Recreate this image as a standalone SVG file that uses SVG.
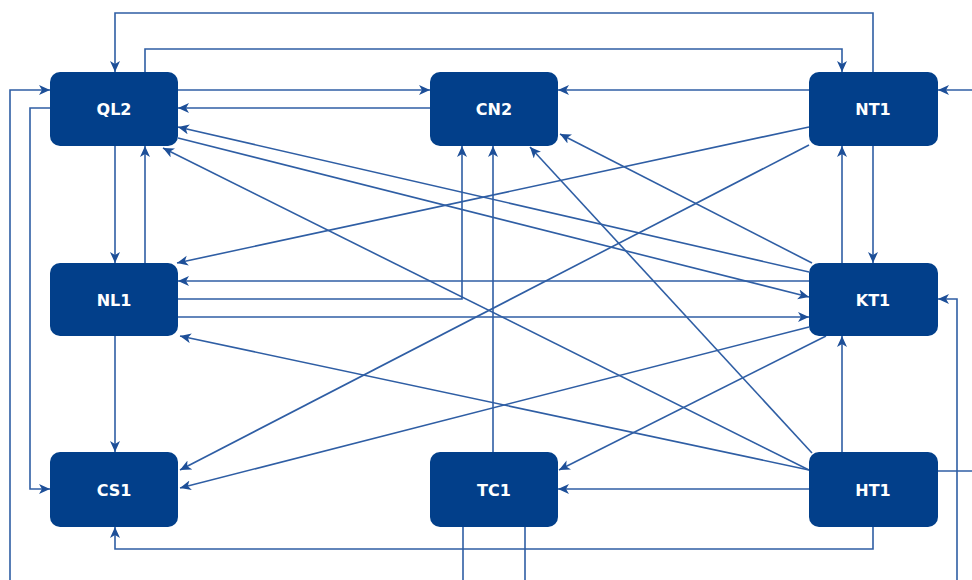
<svg xmlns="http://www.w3.org/2000/svg" width="972" height="580" viewBox="0 0 972 580">
<style>
.node rect{fill:#023f8a;}
.node text{fill:#ffffff;font-family:"DejaVu Sans","Liberation Sans",sans-serif;font-weight:bold;font-size:16px;text-anchor:middle;dominant-baseline:central;}
#connectors path{fill:none;stroke:#2f5ea4;stroke-width:1.6;}
#connectors path.a{marker-end:url(#arr);}
</style>
<defs>
<marker id="arr" markerUnits="userSpaceOnUse" markerWidth="12" markerHeight="11" refX="11" refY="5" orient="auto">
<path d="M0,0 L11,5 L0,10 L3,5 z" fill="#1d4f98"/>
</marker>
</defs>
<rect width="972" height="580" fill="#ffffff"/>
<g id="connectors">
<path class="a" d="M873,72 V13 H115 V72"/>
<path class="a" d="M145,72 V49 H842 V72"/>
<path class="a" d="M10,580 V90 H50"/>
<path class="a" d="M50,108 H30 V489 H50"/>
<path class="a" d="M178,90 H430"/>
<path class="a" d="M430,108 H178"/>
<path class="a" d="M809,90 H558"/>
<path class="a" d="M972,90 H938"/>
<path class="a" d="M115,146 V263"/>
<path class="a" d="M145,263 V146"/>
<path class="a" d="M115,336 V452"/>
<path class="a" d="M873,146 V263"/>
<path class="a" d="M842,263 V146"/>
<path class="a" d="M842,452 V336"/>
<path class="a" d="M957,580 V299 H938"/>
<path d="M938,471 H972"/>
<path class="a" d="M873,527 V549 H115 V527"/>
<path d="M463,527 V580"/>
<path d="M525,527 V580"/>
<path class="a" d="M493,452 V146"/>
<path class="a" d="M178,299 H462 V146"/>
<path class="a" d="M809,281 H178"/>
<path class="a" d="M178,317 H809"/>
<path class="a" d="M809,489 H558"/>
<path class="a" d="M809,272 L178,127"/>
<path class="a" d="M178,138 L809,297"/>
<path class="a" d="M809,470 L163,148"/>
<path class="a" d="M809,470 L180,336"/>
<path class="a" d="M812,453 L530,147"/>
<path class="a" d="M812,263 L560,134"/>
<path class="a" d="M809,127 L177,263"/>
<path class="a" d="M809,145 L180,470"/>
<path class="a" d="M809,327 L180,488"/>
<path class="a" d="M826,336 L559,470"/>
</g>
<g id="QL2" class="node"><rect x="50" y="72" width="128" height="74" rx="10"/><text x="114" y="109">QL2</text></g>
<g id="CN2" class="node"><rect x="430" y="72" width="128" height="74" rx="10"/><text x="494" y="109">CN2</text></g>
<g id="NT1" class="node"><rect x="809" y="72" width="129" height="74" rx="10"/><text x="873" y="109">NT1</text></g>
<g id="NL1" class="node"><rect x="50" y="263" width="128" height="73" rx="10"/><text x="114" y="300">NL1</text></g>
<g id="KT1" class="node"><rect x="809" y="263" width="129" height="73" rx="10"/><text x="873" y="300">KT1</text></g>
<g id="CS1" class="node"><rect x="50" y="452" width="128" height="75" rx="10"/><text x="114" y="490">CS1</text></g>
<g id="TC1" class="node"><rect x="430" y="452" width="128" height="75" rx="10"/><text x="494" y="490">TC1</text></g>
<g id="HT1" class="node"><rect x="809" y="452" width="129" height="75" rx="10"/><text x="873" y="490">HT1</text></g>
</svg>
